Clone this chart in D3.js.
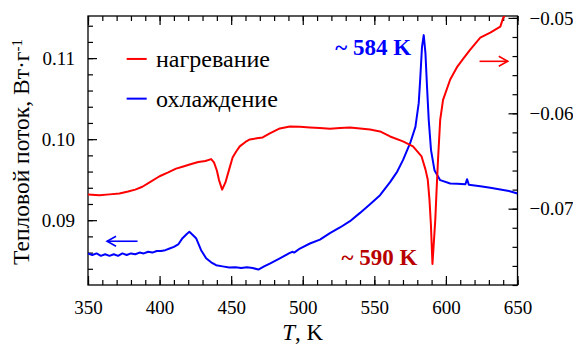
<!DOCTYPE html>
<html><head><meta charset="utf-8">
<script src="https://cdn.jsdelivr.net/npm/d3@7"></script>
<style>
html,body{margin:0;padding:0;background:#fff;}
</style></head>
<body>
<svg id="chart" width="573" height="344" font-family="'Liberation Serif', 'Times New Roman', serif"></svg>
<script>
// ---- data ----
const xTicks = [350, 400, 450, 500, 550, 600, 650];
const leftTicks = [0.09, 0.10, 0.11];
const rightTicks = [-0.07, -0.06, -0.05];
const seriesNames = ["нагревание", "охлаждение"];
const seriesColors = ["#ff0000", "#0000ff"];

// heating (right axis)
const heatT = [350,358,365,372,378,383,388,393,400,406,411.5,416,421,427,432,436,438,440,441.5,443.7,446,448.6,451,453.5,456,460,463,468,472,477,484,491,498,505,512,519,526,533,540,547,554,561,570,577,580,583,585.7,587.3,588.5,589.5,590.6,591.5,592.6,593.5,594.5,596,598,603,608,612,617,624,631,638,640,643];
const heatV = [-0.0685,-0.0686,-0.0685,-0.0684,-0.0682,-0.0680,-0.0677,-0.06725,-0.0666,-0.0662,-0.0658,-0.0656,-0.06536,-0.0651,-0.0650,-0.0648,-0.06515,-0.0660,-0.0670,-0.0680,-0.06725,-0.06588,-0.06463,-0.0640,-0.06347,-0.0630,-0.06274,-0.06262,-0.06253,-0.06211,-0.06159,-0.06138,-0.0614,-0.06148,-0.06155,-0.06162,-0.06155,-0.06148,-0.0616,-0.0617,-0.0619,-0.06243,-0.06295,-0.06347,-0.0640,-0.06452,-0.06588,-0.06693,-0.06902,-0.07162,-0.0758,-0.0737,-0.0711,-0.0680,-0.0648,-0.0607,-0.0586,-0.05646,-0.0551,-0.0543,-0.05332,-0.05206,-0.05154,-0.05091,-0.0500,-0.04934];

// cooling (left axis)
const coolT = [350,353,356,359,362,365,368,371,374,377,380,383,386,389,392,395,398,401,404,407,410,413,416,419,420.8,423,425.5,429,432.5,436,439.5,444,448.6,453,457,461,465,469,473,477,484,491,493,494,498,505,512,519,526,533,540,547,554,561,566,570,575,578.7,581,582,583.3,584.5,585.7,586.8,588,589.6,592,596,603,608,613.6,614.8,616,624,631,638,644,650];
const coolV = [0.0859,0.0857,0.0859,0.0856,0.0858,0.0856,0.0858,0.0856,0.0859,0.0857,0.0859,0.0858,0.0860,0.0859,0.0861,0.0860,0.0862,0.0862,0.0863,0.0865,0.0867,0.0870,0.08778,0.0883,0.08856,0.0882,0.08778,0.0863,0.08531,0.0848,0.08444,0.0843,0.08416,0.0842,0.0841,0.0842,0.0841,0.08391,0.0843,0.08465,0.0853,0.08596,0.0861,0.0860,0.0865,0.08712,0.0876,0.0884,0.0891,0.08988,0.0909,0.09198,0.09309,0.09469,0.0960,0.09741,0.0995,0.10152,0.10444,0.10728,0.1114,0.11284,0.11062,0.10646,0.10235,0.09864,0.09617,0.09494,0.09453,0.0945,0.09444,0.09506,0.09438,0.0942,0.0940,0.09379,0.0936,0.0933];

// annotations
const peakLabels = ["~ 584 K", "~ 590 K"];

// ---- layout ----
const FF = "'Liberation Serif', 'Times New Roman', serif";
const L = 88, R = 517.5, T = 16, B = 285;
const svg = d3.select("#chart");
const x = d3.scaleLinear().domain([350, 650]).range([L, R]);
const yL = d3.scaleLinear().domain([0.082, 0.1152]).range([B, T]);
const yR = d3.scaleLinear().domain([-0.0780, -0.0498]).range([B, T]);

svg.append("defs").append("clipPath").attr("id","clip")
  .append("rect").attr("x",L).attr("y",T).attr("width",R-L).attr("height",B-T);

const FS = 19;
function styleAxis(g){
  g.attr("font-family", FF);
  g.selectAll(".domain").remove();
  g.selectAll("line").attr("stroke","#000").attr("stroke-width",1.2);
  g.selectAll("text").style("font-family", FF).style("font-size",FS+"px").attr("fill","#000");
}
const xMinor = d3.range(350, 651, 10);
svg.append("g").attr("transform",`translate(0,${B})`)
  .call(d3.axisTop(x).tickValues(xMinor).tickSize(5).tickFormat(""))
  .call(styleAxis);
svg.append("g").attr("transform",`translate(0,${B})`)
  .call(d3.axisTop(x).tickValues(xTicks).tickSize(9).tickFormat(""))
  .call(styleAxis);
svg.append("g").attr("transform",`translate(0,${B})`)
  .call(d3.axisBottom(x).tickValues(xTicks).tickSize(0).tickPadding(16).tickFormat(d3.format("d")))
  .call(styleAxis);
svg.append("g").attr("transform",`translate(0,${T})`)
  .call(d3.axisBottom(x).tickValues(xMinor).tickSize(5).tickFormat(""))
  .call(styleAxis);
svg.append("g").attr("transform",`translate(0,${T})`)
  .call(d3.axisBottom(x).tickValues(xTicks).tickSize(9).tickFormat(""))
  .call(styleAxis);

const lMinor = d3.range(0.084, 0.1152, 0.002);
svg.append("g").attr("transform",`translate(${L},0)`)
  .call(d3.axisRight(yL).tickValues(lMinor).tickSize(5).tickFormat(""))
  .call(styleAxis);
svg.append("g").attr("transform",`translate(${L},0)`)
  .call(d3.axisRight(yL).tickValues(leftTicks).tickSize(9).tickFormat(""))
  .call(styleAxis);
svg.append("g").attr("transform",`translate(${L},0)`)
  .call(d3.axisLeft(yL).tickValues(leftTicks).tickSize(0).tickPadding(13).tickFormat(d3.format(".2f")))
  .call(styleAxis);

const rMinor = d3.range(-0.078, -0.0498, 0.002);
svg.append("g").attr("transform",`translate(${R},0)`)
  .call(d3.axisLeft(yR).tickValues(rMinor).tickSize(5).tickFormat(""))
  .call(styleAxis);
svg.append("g").attr("transform",`translate(${R},0)`)
  .call(d3.axisLeft(yR).tickValues(rightTicks).tickSize(9).tickFormat(""))
  .call(styleAxis);
svg.append("g").attr("transform",`translate(${R},0)`)
  .call(d3.axisRight(yR).tickValues(rightTicks).tickSize(0).tickPadding(12).tickFormat(d3.format(".2f")))
  .call(styleAxis);

// frame
svg.append("rect").attr("x",L).attr("y",T).attr("width",R-L).attr("height",B-T)
  .attr("fill","none").attr("stroke","#000").attr("stroke-width",1.3);

// lines
const heat = heatT.map((t,i)=>({t, v:heatV[i]}));
const cool = coolT.map((t,i)=>({t, v:coolV[i]}));
const plot = svg.append("g").attr("clip-path","url(#clip)");
plot.append("path").datum(cool)
  .attr("d", d3.line().x(d=>x(d.t)).y(d=>yL(d.v)))
  .attr("fill","none").attr("stroke",seriesColors[1]).attr("stroke-width",2).attr("stroke-linejoin","round");
plot.append("path").datum(heat)
  .attr("d", d3.line().x(d=>x(d.t)).y(d=>yR(d.v)))
  .attr("fill","none").attr("stroke",seriesColors[0]).attr("stroke-width",2).attr("stroke-linejoin","round");

// legend
const legY = [yL(0.1099), yL(0.1050)];
seriesNames.forEach((n,i)=>{
  svg.append("line").attr("x1",x(377)).attr("x2",x(391)).attr("y1",legY[i]).attr("y2",legY[i])
    .attr("stroke",seriesColors[i]).attr("stroke-width",2);
  svg.append("text").attr("x",x(397.5)).attr("y",legY[i] + 8)
    .style("font-family",FF).style("font-size","24px").text(n);
});

// arrows
function arrow(x1,x2,y,color){
  const g = svg.append("g").attr("stroke",color).attr("stroke-width",1.6).attr("fill","none");
  g.append("line").attr("x1",x1).attr("x2",x2).attr("y1",y).attr("y2",y);
  const dir = x2 > x1 ? -1 : 1;
  g.append("path").attr("d",`M${x2+dir*9},${y-5}L${x2},${y}L${x2+dir*9},${y+5}`);
}
arrow(x(384.6), x(363.3), yL(0.0874), seriesColors[1]);
arrow(x(623.5), x(643.2), yR(-0.05455), seriesColors[0]);

// peak labels
svg.append("text").attr("x",x(575.7)).attr("y",yL(0.1114)).attr("dy","0.35em")
  .attr("text-anchor","end").style("font-family",FF).style("font-size","23px").style("font-weight","bold")
  .style("fill","#0000ff").text(peakLabels[0]);
svg.append("text").attr("x",x(580)).attr("y",yR(-0.0751)).attr("dy","0.35em")
  .attr("text-anchor","end").style("font-family",FF).style("font-size","23px").style("font-weight","bold")
  .style("fill","#b80000").text(peakLabels[1]);

// axis titles
const xt = svg.append("text").attr("x",(L+R)/2).attr("y",340).attr("text-anchor","middle")
  .style("font-family",FF).style("font-size","23px");
xt.append("tspan").style("font-style","italic").text("T");
xt.append("tspan").text(", K");

const yt = svg.append("text").attr("transform",`translate(29,265) rotate(-90)`)
  .attr("text-anchor","start").style("font-family",FF).style("font-size","23.5px");
yt.append("tspan").text("Тепловой поток, Вт·г");
yt.append("tspan").attr("dy","-0.45em").style("font-size","15px").text("-1");
</script>
</body></html>
